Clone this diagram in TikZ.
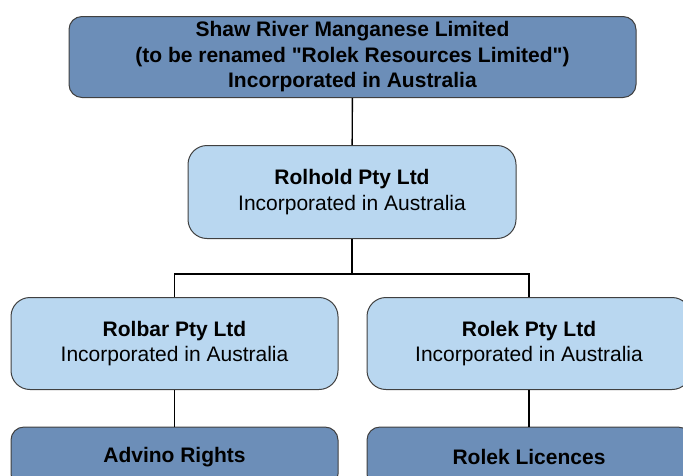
\documentclass[tikz,border=0pt]{standalone}
\usepackage{fontspec}
\setmainfont{Liberation Sans}
\usetikzlibrary{positioning}
\definecolor{darkbox}{RGB}{108,142,184}
\definecolor{lightbox}{RGB}{185,215,240}
\definecolor{edgegray}{RGB}{64,64,64}

\begin{document}
\begin{tikzpicture}
  [x=1pt,y=1pt,
   boxN/.style={draw=edgegray,line width=1pt,rectangle,align=center,
                font=\fontsize{21}{25.5}\selectfont,inner sep=0pt},
   darkN/.style={boxN,fill=darkbox,rounded corners=13pt},
   lightN/.style={boxN,fill=lightbox,rounded corners=19pt},
   link/.style={line width=1.4pt,black},
  ]
 \useasboundingbox (0,0) rectangle (683,-475);

 % holding company on top
 \node[darkN,minimum width=567pt,minimum height=81pt] (shaw) at (352.5,-57)
   {\textbf{Shaw River Manganese Limited}\\
    \textbf{(to be renamed \textquotedbl Rolek Resources Limited\textquotedbl)}\\
    \textbf{Incorporated in Australia}};

 \node[lightN,minimum width=328pt,minimum height=93pt] (rolhold) at (352,-192)
   {\textbf{Rolhold Pty Ltd}\\Incorporated in Australia};

 % the two subsidiaries
 \node[lightN,minimum width=327pt,minimum height=92pt] (rolbar) at (174.5,-343.5)
   {\textbf{Rolbar Pty Ltd}\\Incorporated in Australia};
 \node[lightN,minimum width=324pt,minimum height=92pt] (rolek) at (529,-343.5)
   {\textbf{Rolek Pty Ltd}\\Incorporated in Australia};

 % assets
 \node[darkN,minimum width=327pt,minimum height=60pt] (advino) at (174.5,-457)
   {\textbf{Advino Rights}};
 \node[darkN,minimum width=324pt,minimum height=60pt] (licences) at (529,-457)
   {\textbf{Rolek Licences}};

 \coordinate (split) at (352,-274);

 \draw[link] (shaw) -- (rolhold);
 \draw[link] (rolhold) -- (split) -| (rolbar);
 \draw[link] (split) -| (rolek);
 \draw[link] (rolbar) -- (advino);
 \draw[link] (rolek) -- (licences);

\end{tikzpicture}
\end{document}
